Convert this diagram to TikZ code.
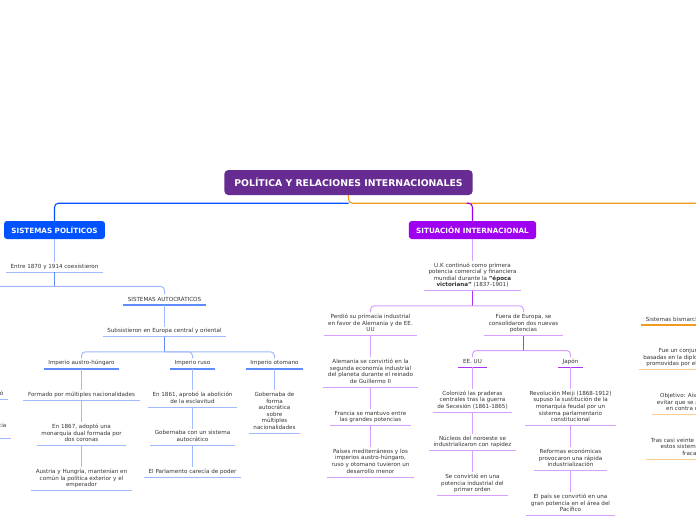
\documentclass[tikz,border=0pt]{standalone}
\usepackage{fontspec}
\setmainfont{DejaVu Sans}
\usepackage{tikz}
\usetikzlibrary{positioning,backgrounds}
\definecolor{rootpurple}{RGB}{102,44,145}
\definecolor{spblue}{RGB}{0,82,255}
\definecolor{lightblue}{RGB}{160,185,255}
\definecolor{midblue}{RGB}{95,140,255}
\definecolor{sitpurple}{RGB}{158,0,240}
\definecolor{headviolet}{RGB}{172,52,248}
\definecolor{lightpurple}{RGB}{215,160,255}
\definecolor{trunkorange}{RGB}{240,155,30}
\definecolor{lightorange}{RGB}{255,205,140}
\definecolor{textgray}{RGB}{51,51,51}

\begin{document}
\begin{tikzpicture}[x=1pt,y=-1pt,
      node distance=21.7pt,
      every node/.style={text=textgray},
      topic/.style={font=\fontsize{5.6}{6.6}\selectfont,align=center,
                    inner xsep=4.5pt,inner ysep=1.6pt,
                    execute at begin node=\strut,execute at end node=\strut},
      under/.style 2 args={append after command={(\tikzlastnode.south west)
                    edge[color=#1,line width=#2] (\tikzlastnode.south east)}},
      bnode/.style={topic,under={lightblue}{0.9pt}},
      bhead/.style={topic,under={midblue}{1.8pt}},
      pnode/.style={topic,under={lightpurple}{0.9pt}},
      phead/.style={topic},
      onode/.style={topic,under={lightorange}{0.9pt}},
      ohead/.style={topic,under={trunkorange}{1.8pt}},
      mainbox/.style={text=white,rounded corners=3pt,minimum height=18pt,
                      inner xsep=7.4pt,font=\fontsize{7.2}{8.5}\selectfont\bfseries},
      blink/.style={color=lightblue,line width=1pt,rounded corners=4pt},
      bstub/.style={color=midblue,line width=1.2pt},
      plink/.style={color=lightpurple,line width=1pt,rounded corners=4pt},
      pstub/.style={headviolet,line width=1.2pt},
      olink/.style={color=lightorange,line width=1pt,rounded corners=4pt},
      trunk/.style={line width=1.1pt,rounded corners=4pt},
    ]
    \useasboundingbox (0,0) rectangle (696,520);
    \clip (0,0) rectangle (696,520);

    % Central topic and main branches
    \node[fill=rootpurple,text=white,rounded corners=4pt,minimum height=25pt,
          inner xsep=10pt,font=\fontsize{9.3}{10.5}\selectfont\bfseries]
          (root) at (348.5,182.5) {POLÍTICA Y RELACIONES INTERNACIONALES};
    \node[mainbox,fill=spblue] (sp) at (54.5,230) {SISTEMAS POLÍTICOS};
    \node[mainbox,fill=sitpurple] (sit) at (472.5,230) {SITUACIÓN INTERNACIONAL};

    \coordinate[below=8pt of root] (rootbus);
    \path (rootbus) ++(380,0) coordinate (offright);
    \path (sit.north |- rootbus) ++(-6,0) coordinate (sitbend);
    \draw[trunk,trunkorange] (root.south) -- (rootbus) -- (offright);
    \draw[trunk,spblue] (rootbus) -| (sp.north);
    \draw[trunk,sitpurple] (sitbend) -| (sit.north);

    % Sistemas politicos
    \node[bnode,below=23pt of sp] (entre) {Entre 1870 y 1914 coexistieron};
    \draw[bstub] (entre.south) -- ++(0,14) coordinate (entrebus);
    \path (entrebus) ++(-90,0) coordinate (offleft);
    \node[bhead,below=of entre,xshift=110pt] (autoc) {SISTEMAS AUTOCRÁTICOS};
    \draw[blink] (offleft) -- (entrebus) -| (autoc.north);
    \node[bnode,below=of autoc] (subsis) {Subsistieron en Europa central y oriental};
    \draw[bstub] (subsis.south) -- ++(0,15) coordinate (subbus);

    \node[bhead,below=of subsis,xshift=-83pt] (austro) {Imperio austro-húngaro};
    \node[bhead,below=of subsis,xshift=28pt] (ruso) {Imperio ruso};
    \node[bhead,below=of subsis,xshift=110pt] (otomano) {Imperio otomano};
    \foreach \c in {austro,ruso,otomano}
      \draw[blink] (subbus) -| (\c.north);

    \node[bnode,below=of austro] (formado) {Formado por múltiples nacionalidades};
    \node[bnode,below=of formado] (dual) {En 1867, adoptó una\\monarquía dual formada por\\dos coronas};
    \node[bnode,below=of dual] (comun) {Austria y Hungría, mantenían en\\común la política exterior y el\\emperador};
    \node[bnode,below=of ruso] (abolic) {En 1861, aprobó la abolición\\de la esclavitud};
    \node[bnode,below=of abolic] (autocr) {Gobernaba con un sistema\\autocrático};
    \node[bnode,below=of autocr] (parlam) {El Parlamento carecía de poder};
    \node[bnode,below=of otomano] (otogob) {Gobernaba de\\forma\\autocrática\\sobre\\múltiples\\nacionalidades};

    % cut off at the left edge
    \node[bnode,anchor=south east] (liba) at (8,399) {El sufragio universal se aprobó};
    \node[bnode,anchor=south east] (libb) at (11,438) {Se consolidó la democracia\\parlamentaria};

    \foreach \s/\t in {sp/entre,autoc/subsis,austro/formado,formado/dual,dual/comun,
                       ruso/abolic,abolic/autocr,autocr/parlam,otomano/otogob}
      \draw[blink] (\s.south) -- (\t.north);

    % Situacion internacional
    \node[pnode,below=of sit] (uk) {U.K continuó como primera\\potencia comercial y financiera\\mundial durante la \textbf{"época}\\\textbf{victoriana"} (1837-1901)};
    \path (uk.south) ++(0,15) coordinate (ukbus);
    \node[pnode,below=of uk,xshift=-102pt] (perdio) {Perdió su primacía industrial\\en favor de Alemania y de EE.\\UU};
    \node[pnode,below=of uk,xshift=51pt] (fuera) {Fuera de Europa, se\\consolidaron dos nuevas\\potencias};
    \foreach \c in {perdio,fuera}
      \draw[plink] (ukbus) -| (\c.north);

    \node[pnode,below=of perdio] (alemania) {Alemania se convirtió en la\\segunda economía industrial\\del planeta durante el reinado\\de Guillermo II};
    \node[pnode,below=of alemania] (francia) {Francia se mantuvo entre\\las grandes potencias};
    \node[pnode,below=of francia] (paises) {Países mediterráneos y los\\imperios austro-húngaro,\\ruso y otomano tuvieron un\\desarrollo menor};

    \path (fuera.south) ++(0,15) coordinate (fuerabus);
    \node[phead,below=of fuera,xshift=-51pt] (eeuu) {EE. UU};
    \node[phead,below=of fuera,xshift=47pt] (japon) {Japón};
    \foreach \c in {eeuu,japon}
      \draw[plink] (fuerabus) -| (\c.north);

    \node[pnode,below=of eeuu] (praderas) {Colonizó las praderas\\centrales tras la guerra\\de Secesión (1861-1865)};
    \node[pnode,below=of praderas] (nucleos) {Núcleos del noroeste se\\industrializaron con rapidez};
    \node[pnode,below=of nucleos] (primer) {Se convirtió en una\\potencia industrial del\\primer orden};
    \node[pnode,below=of japon] (meiji) {Revolución Meiji (1868-1912)\\supuso la sustitución de la\\monarquía feudal por un\\sistema parlamentario\\constitucional};
    \node[pnode,below=of meiji] (reformas) {Reformas económicas\\provocaron una rápida\\industrialización};
    \node[pnode,below=of reformas] (pacifico) {El país se convirtió en una\\gran potencia en el área del\\Pacífico};

    \foreach \s/\t in {sit/uk,perdio/alemania,alemania/francia,francia/paises,
                       eeuu/praderas,praderas/nucleos,nucleos/primer,
                       japon/meiji,meiji/reformas,reformas/pacifico}
      \draw[plink] (\s.south) -- (\t.north);

    % stubs and head underlines of the purple branch
    \begin{scope}[on background layer]
      \draw[pstub] (uk.south) -- (ukbus);
      \draw[pstub] (fuera.south) -- (fuerabus);
      \foreach \c in {eeuu,japon}
        \draw[pstub,line width=1.8pt] (\c.south west) -- (\c.south east);
    \end{scope}

    % cut off at the right edge
    \node[ohead,anchor=south] (bismarck) at (698,325) {Sistemas bismarckianos (1871-1890)};
    \node[onode,below=of bismarck] (alianzas) {Fue un conjunto de alianzas\\basadas en la diplomacia internacional\\promovidas por el canciller Bismarck};
    \node[onode,below=of alianzas] (objetivo) {Objetivo: Aislar a Francia y\\evitar que se aliara con otras\\en contra de Alemania};
    \node[onode,below=of objetivo] (fracaso) {Tras casi veinte años de vigencia,\\estos sistemas de alianzas\\fracasaron.};
    \foreach \s/\t in {bismarck/alianzas,alianzas/objetivo,objetivo/fracaso}
      \draw[olink] (\s.south) -- (\t.north);

  \end{tikzpicture}
\end{document}
